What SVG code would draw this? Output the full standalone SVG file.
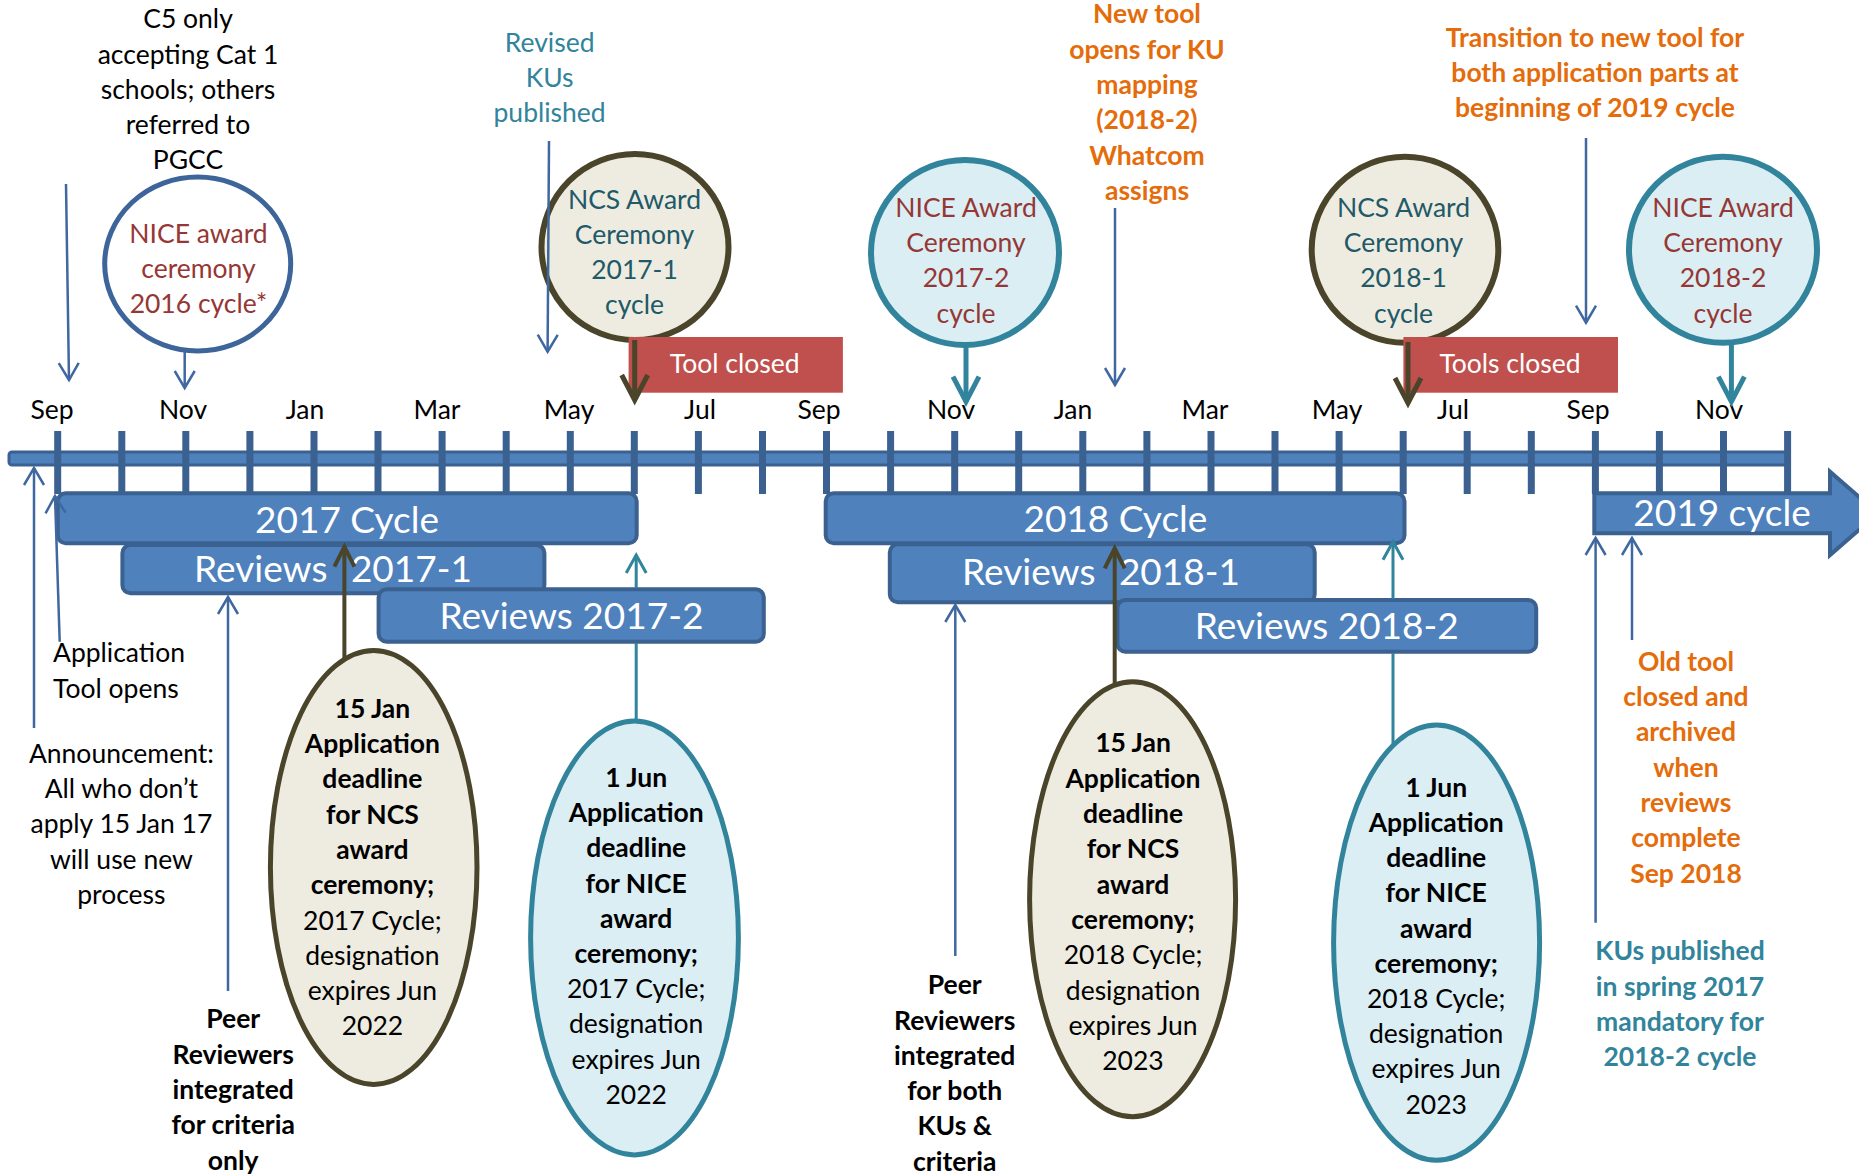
<svg xmlns="http://www.w3.org/2000/svg" width="1859" height="1174" viewBox="0 0 1859 1174">
<defs>
<style>
text { font-family: Lato, "Open Sans", "Liberation Sans", sans-serif; font-size: 26.5px; text-anchor: middle; fill: #000; }
.b { font-weight: bold; }
.big { font-size: 37px; fill: #fff; }
.wt { fill: #fff; }
.red { fill: #953735; }
.dteal { fill: #215968; }
.teal { fill: #31849b; }
.org { fill: #e46c0a; }
.bar { fill: #4f81bd; stroke: #3b6190; stroke-width: 4; }
.tick { stroke: #3b6190; stroke-width: 7; }
.ncs { fill: #eeece1; stroke: #4a452a; stroke-width: 6; }
.nice { fill: #dbeef4; stroke: #31849b; stroke-width: 6; }
.box { fill: #c0504d; }
.thin { fill: none; stroke: #3f67a0; stroke-width: 2.5; marker-end: url(#mb); }
.olive { fill: none; stroke: #4a452a; stroke-width: 5; marker-end: url(#mo); }
.tealthick { fill: none; stroke: #31849b; stroke-width: 5; marker-end: url(#mt); }
.oliveup { fill: none; stroke: #4a452a; stroke-width: 4; marker-end: url(#mou); }
.tealup { fill: none; stroke: #31849b; stroke-width: 3; marker-end: url(#mtu); }
</style>
<marker id="mb" markerUnits="userSpaceOnUse" markerWidth="24" markerHeight="24" viewBox="0 0 24 24" refX="21" refY="12" orient="auto" overflow="visible">
<path d="M4,2 L21,12 L4,22" fill="none" stroke="#3f67a0" stroke-width="2.5"/>
</marker>
<marker id="mo" markerUnits="userSpaceOnUse" markerWidth="32" markerHeight="32" viewBox="0 0 32 32" refX="28" refY="16" orient="auto" overflow="visible">
<path d="M3,3 L28,16 L3,29" fill="none" stroke="#4a452a" stroke-width="5"/>
</marker>
<marker id="mt" markerUnits="userSpaceOnUse" markerWidth="32" markerHeight="32" viewBox="0 0 32 32" refX="28" refY="16" orient="auto" overflow="visible">
<path d="M3,3 L28,16 L3,29" fill="none" stroke="#31849b" stroke-width="5"/>
</marker>
<marker id="mou" markerUnits="userSpaceOnUse" markerWidth="28" markerHeight="28" viewBox="0 0 28 28" refX="24" refY="14" orient="auto" overflow="visible">
<path d="M4,4 L24,14 L4,24" fill="none" stroke="#4a452a" stroke-width="4"/>
</marker>
<marker id="mtu" markerUnits="userSpaceOnUse" markerWidth="26" markerHeight="26" viewBox="0 0 26 26" refX="22" refY="13" orient="auto" overflow="visible">
<path d="M4,3 L22,13 L4,23" fill="none" stroke="#31849b" stroke-width="3"/>
</marker>
</defs>

<g id="timeline">
<rect x="9" y="452" width="1779" height="13" rx="3" fill="#4f81bd" stroke="#3b6190" stroke-width="3"/>
<path class="tick" d="M57.7,431V494 M121.8,431V494 M185.8,431V494 M249.9,431V494 M314,431V494 M378,431V494 M442.1,431V494 M506.2,431V494 M570.3,431V494 M634.3,431V494 M698.4,431V494 M762.5,431V494 M826.5,431V494 M890.6,431V494 M954.7,431V494 M1018.7,431V494 M1082.8,431V494 M1146.9,431V494 M1211,431V494 M1275,431V494 M1339.1,431V494 M1403.2,431V494 M1467.2,431V494 M1531.3,431V494 M1595.4,431V494 M1659.4,431V494 M1723.5,431V494 M1787.6,431V494"/>
<text x="52" y="419">Sep</text>
<text x="183" y="419">Nov</text>
<text x="305" y="419">Jan</text>
<text x="437" y="419">Mar</text>
<text x="569" y="419">May</text>
<text x="700" y="419">Jul</text>
<text x="819" y="419">Sep</text>
<text x="951" y="419">Nov</text>
<text x="1073" y="419">Jan</text>
<text x="1205" y="419">Mar</text>
<text x="1337" y="419">May</text>
<text x="1453" y="419">Jul</text>
<text x="1588" y="419">Sep</text>
<text x="1719" y="419">Nov</text>
</g>

<g id="c5-note"><text x="188" y="28.3"><tspan x="188">C5 only</tspan><tspan x="188" dy="35.2">accepting Cat 1</tspan><tspan x="188" dy="35.2">schools; others</tspan><tspan x="188" dy="35.2">referred to</tspan><tspan x="188" dy="35.2">PGCC</tspan></text></g>

<g id="nice-2016"><ellipse cx="197.7" cy="264" rx="93" ry="87" fill="#fff" stroke="#3d6599" stroke-width="5"/>
<text class="red" x="198.5" y="242.7"><tspan x="198.5">NICE award</tspan><tspan x="198.5" dy="35.2">ceremony</tspan><tspan x="198.5" dy="35.2">2016 cycle*</tspan></text></g>

<g id="revised-kus"><text class="teal" x="549.6" y="51.7"><tspan x="549.6">Revised</tspan><tspan x="549.6" dy="35">KUs</tspan><tspan x="549.6" dy="35">published</tspan></text></g>

<g id="ncs-2017-1"><ellipse class="ncs" cx="635" cy="247" rx="93.5" ry="93"/>
<text class="dteal" x="634.5" y="208.5"><tspan x="634.5">NCS Award</tspan><tspan x="634.5" dy="35.2">Ceremony</tspan><tspan x="634.5" dy="35.2">2017-1</tspan><tspan x="634.5" dy="35.2">cycle</tspan></text></g>

<g id="tool-closed"><rect class="box" x="628.6" y="337" width="214.3" height="55.7"/>
<text class="wt" x="734.7" y="373">Tool closed</text></g>

<g id="nice-2017-2"><ellipse class="nice" cx="965" cy="252.5" rx="94" ry="92.5"/>
<text class="red" x="966" y="216.7"><tspan x="966">NICE Award</tspan><tspan x="966" dy="35.3">Ceremony</tspan><tspan x="966" dy="35.3">2017-2</tspan><tspan x="966" dy="35.3">cycle</tspan></text></g>

<g id="new-tool"><text class="org b" x="1147" y="23.3"><tspan x="1147">New tool</tspan><tspan x="1147" dy="35.3">opens for KU</tspan><tspan x="1147" dy="35.3">mapping</tspan><tspan x="1147" dy="35.3">(2018-2)</tspan><tspan x="1147" dy="35.3">Whatcom</tspan><tspan x="1147" dy="35.3">assigns</tspan></text></g>

<g id="ncs-2018-1"><ellipse class="ncs" cx="1405" cy="249.7" rx="93.3" ry="93"/>
<text class="dteal" x="1403.5" y="216.7"><tspan x="1403.5">NCS Award</tspan><tspan x="1403.5" dy="35.3">Ceremony</tspan><tspan x="1403.5" dy="35.3">2018-1</tspan><tspan x="1403.5" dy="35.3">cycle</tspan></text></g>

<g id="tools-closed"><rect class="box" x="1403.4" y="337" width="214.6" height="55.7"/>
<text class="wt" x="1510" y="373">Tools closed</text></g>

<g id="transition"><text class="org b" x="1595" y="46.7"><tspan x="1595">Transition to new tool for</tspan><tspan x="1595" dy="35.3">both application parts at</tspan><tspan x="1595" dy="35.3">beginning of 2019 cycle</tspan></text></g>

<g id="nice-2018-2"><ellipse class="nice" cx="1723" cy="249.7" rx="94" ry="93"/>
<text class="red" x="1723" y="216.7"><tspan x="1723">NICE Award</tspan><tspan x="1723" dy="35.3">Ceremony</tspan><tspan x="1723" dy="35.3">2018-2</tspan><tspan x="1723" dy="35.3">cycle</tspan></text></g>

<g id="cycle-2017"><rect class="bar" x="57.7" y="493.3" width="579" height="50" rx="8"/>
<text class="big" x="347" y="533">2017 Cycle</text></g>
<g id="reviews-2017-1"><rect class="bar" x="122.4" y="545" width="422" height="48.3" rx="8"/>
<text class="big" x="333" y="581.7" word-spacing="14">Reviews 2017-1</text></g>
<g id="reviews-2017-2"><rect class="bar" x="378.6" y="589.3" width="385.2" height="52.4" rx="8"/>
<text class="big" x="571.4" y="629.3">Reviews 2017-2</text></g>
<g id="cycle-2018"><rect class="bar" x="825.7" y="493.3" width="578.8" height="50" rx="8"/>
<text class="big" x="1115.4" y="531.7">2018 Cycle</text></g>
<g id="reviews-2018-1"><rect class="bar" x="889.8" y="544.3" width="424.9" height="58" rx="8"/>
<text class="big" x="1101" y="585" word-spacing="14">Reviews 2018-1</text></g>
<g id="reviews-2018-2"><rect class="bar" x="1117.4" y="600" width="418.8" height="51.7" rx="8"/>
<text class="big" x="1326.8" y="639.3">Reviews 2018-2</text></g>
<g id="cycle-2019"><polygon class="bar" points="1594.3,493.3 1830,493.3 1830,471.7 1878,513.3 1830,555 1830,533.3 1594.3,533.3"/>
<text class="big" x="1722" y="526">2019 cycle</text></g>

<g id="app-tool-opens"><text x="53" y="662" text-anchor="start" style="text-anchor:start"><tspan x="53">Application</tspan><tspan x="53" dy="36">Tool opens</tspan></text></g>

<g id="announcement"><text x="121.4" y="762.6"><tspan x="121.4">Announcement:</tspan><tspan x="121.4" dy="35.4">All who don’t</tspan><tspan x="121.4" dy="35.4">apply 15 Jan 17</tspan><tspan x="121.4" dy="35.4">will use new</tspan><tspan x="121.4" dy="35.4">process</tspan></text></g>

<g id="peer-2017"><text class="b" x="233.2" y="1028.3"><tspan x="233.2">Peer</tspan><tspan x="233.2" dy="35.3">Reviewers</tspan><tspan x="233.2" dy="35.3">integrated</tspan><tspan x="233.2" dy="35.3">for criteria</tspan><tspan x="233.2" dy="35.3">only</tspan></text></g>

<g id="jan-2017"><ellipse class="ncs" cx="373.7" cy="867.4" rx="103.3" ry="217" style="stroke-width:5"/>
<text x="372.4" y="717.7"><tspan class="b" x="372.4">15 Jan</tspan><tspan class="b" x="372.4" dy="35.3">Application</tspan><tspan class="b" x="372.4" dy="35.3">deadline</tspan><tspan class="b" x="372.4" dy="35.3">for NCS</tspan><tspan class="b" x="372.4" dy="35.3">award</tspan><tspan class="b" x="372.4" dy="35.3">ceremony;</tspan><tspan x="372.4" dy="35.3">2017 Cycle;</tspan><tspan x="372.4" dy="35.3">designation</tspan><tspan x="372.4" dy="35.3">expires Jun</tspan><tspan x="372.4" dy="35.3">2022</tspan></text></g>

<g id="jun-2017"><ellipse class="nice" cx="634.5" cy="937.9" rx="103.9" ry="217" style="stroke-width:5"/>
<text x="636.2" y="787"><tspan class="b" x="636.2">1 Jun</tspan><tspan class="b" x="636.2" dy="35.2">Application</tspan><tspan class="b" x="636.2" dy="35.2">deadline</tspan><tspan class="b" x="636.2" dy="35.2">for NICE</tspan><tspan class="b" x="636.2" dy="35.2">award</tspan><tspan class="b" x="636.2" dy="35.2">ceremony;</tspan><tspan x="636.2" dy="35.2">2017 Cycle;</tspan><tspan x="636.2" dy="35.2">designation</tspan><tspan x="636.2" dy="35.2">expires Jun</tspan><tspan x="636.2" dy="35.2">2022</tspan></text></g>

<g id="peer-2018"><text class="b" x="954.7" y="994.2"><tspan x="954.7">Peer</tspan><tspan x="954.7" dy="35.3">Reviewers</tspan><tspan x="954.7" dy="35.3">integrated</tspan><tspan x="954.7" dy="35.3">for both</tspan><tspan x="954.7" dy="35.3">KUs &amp;</tspan><tspan x="954.7" dy="35.3">criteria</tspan></text></g>

<g id="jan-2018"><ellipse class="ncs" cx="1132.6" cy="899.3" rx="103" ry="217.5" style="stroke-width:5"/>
<text x="1133" y="752.4"><tspan class="b" x="1133">15 Jan</tspan><tspan class="b" x="1133" dy="35.3">Application</tspan><tspan class="b" x="1133" dy="35.3">deadline</tspan><tspan class="b" x="1133" dy="35.3">for NCS</tspan><tspan class="b" x="1133" dy="35.3">award</tspan><tspan class="b" x="1133" dy="35.3">ceremony;</tspan><tspan x="1133" dy="35.3">2018 Cycle;</tspan><tspan x="1133" dy="35.3">designation</tspan><tspan x="1133" dy="35.3">expires Jun</tspan><tspan x="1133" dy="35.3">2023</tspan></text></g>

<g id="jun-2018"><ellipse class="nice" cx="1436.6" cy="942.7" rx="103" ry="217.6" style="stroke-width:5"/>
<text x="1436.2" y="796.7"><tspan class="b" x="1436.2">1 Jun</tspan><tspan class="b" x="1436.2" dy="35.2">Application</tspan><tspan class="b" x="1436.2" dy="35.2">deadline</tspan><tspan class="b" x="1436.2" dy="35.2">for NICE</tspan><tspan class="b" x="1436.2" dy="35.2">award</tspan><tspan class="b" x="1436.2" dy="35.2">ceremony;</tspan><tspan x="1436.2" dy="35.2">2018 Cycle;</tspan><tspan x="1436.2" dy="35.2">designation</tspan><tspan x="1436.2" dy="35.2">expires Jun</tspan><tspan x="1436.2" dy="35.2">2023</tspan></text></g>

<g id="old-tool"><text class="org b" x="1686" y="670.7"><tspan x="1686">Old tool</tspan><tspan x="1686" dy="35.3">closed and</tspan><tspan x="1686" dy="35.3">archived</tspan><tspan x="1686" dy="35.3">when</tspan><tspan x="1686" dy="35.3">reviews</tspan><tspan x="1686" dy="35.3">complete</tspan><tspan x="1686" dy="35.3">Sep 2018</tspan></text></g>

<g id="kus-published"><text class="teal b" x="1680" y="960.2"><tspan x="1680">KUs published</tspan><tspan x="1680" dy="35.3">in spring 2017</tspan><tspan x="1680" dy="35.3">mandatory for</tspan><tspan x="1680" dy="35.3">2018-2 cycle</tspan></text></g>

<g id="connectors">
<path class="thin" d="M66,184 L69,380"/>
<path class="thin" d="M184.7,350 L184.7,388"/>
<path class="thin" d="M549,141 L547.6,351.7"/>
<path class="olive" d="M634.7,340 L634.7,400"/>
<path class="tealthick" d="M966,345 L966,401.7"/>
<path class="thin" d="M1115,208 L1115,385"/>
<path class="thin" d="M1586,138 L1586,322.7"/>
<path class="olive" d="M1408,342 L1408,403"/>
<path class="tealthick" d="M1731.4,342 L1731.4,401.7"/>
<path class="thin" d="M34,728 L34,468"/>
<path class="thin" d="M59.7,641.7 L55,496"/>
<path class="thin" d="M228,991 L228,597"/>
<path class="oliveup" d="M344.4,659 L344.4,546.7"/>
<path class="tealup" d="M636.2,721 L636.2,643 M636.2,588 L636.2,555"/>
<path class="thin" d="M955.3,956 L955.3,605"/>
<path class="oliveup" d="M1114.7,685 L1114.7,548.3"/>
<path class="tealup" d="M1393,745 L1393,653 M1393,599 L1393,541.7"/>
<path class="thin" d="M1595.6,922.7 L1595.6,538"/>
<path class="thin" d="M1632,640 L1632,538"/>
</g>
</svg>
